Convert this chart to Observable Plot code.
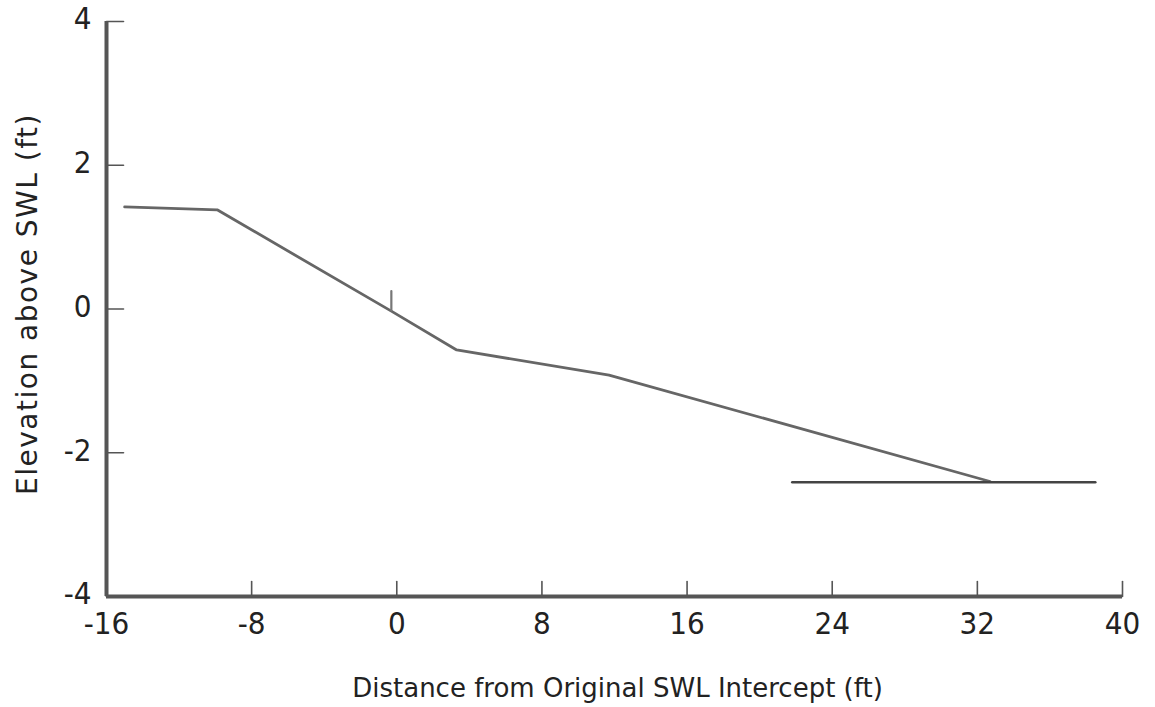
<!DOCTYPE html>
<html>
<head>
<meta charset="utf-8">
<script src="https://cdn.jsdelivr.net/npm/d3@7"></script>
<script src="https://cdn.jsdelivr.net/npm/@observablehq/plot@0.6"></script>
<style>
  html, body { margin: 0; padding: 0; background: #fff; }
  #chart svg { display: block; }
  #chart .ylabel text { letter-spacing: 1.5px; }
</style>
</head>
<body>
<div id="chart"></div>
<script>
// Profile (distance ft, elevation ft)
const profileX = [-15.0, -9.9, -0.3, 3.3, 11.7, 32.7];
const profileY = [1.42, 1.38, -0.03, -0.57, -0.92, -2.40];
// Horizontal line near the toe
const levelX = [21.8, 38.5];
const levelY = [-2.41, -2.41];
// Small vertical marker at the original SWL intercept
const markX = [-0.3, -0.3];
const markY = [-0.02, 0.25];

const xTicks = [-16, -8, 0, 8, 16, 24, 32, 40];
const yTicks = [-4, -2, 0, 2, 4];
const xLabel = "Distance from Original SWL Intercept (ft)";
const yLabel = "Elevation above SWL (ft)";

const profile = profileX.map((x, i) => ({x, y: profileY[i]}));
const level = levelX.map((x, i) => ({x, y: levelY[i]}));
const mark = markX.map((x, i) => ({x, y: markY[i]}));

const axisColor = "#555";
const lineColor = "#666";
const textColor = "#222";
const font = "'DejaVu Sans Condensed', 'DejaVu Sans', sans-serif";
const labelFont = "'DejaVu Sans', sans-serif";
const tickShape = {draw(ctx, l) { ctx.moveTo(0, 0); ctx.lineTo(0, -l); }};

const chart = Plot.plot({
  width: 1155,
  height: 707,
  marginLeft: 106,
  marginRight: 33,
  marginTop: 21,
  marginBottom: 111,
  style: {fontFamily: font, color: textColor, background: "#fff"},
  x: {domain: [-16, 40]},
  y: {domain: [-4, 4]},
  marks: [
    Plot.axisX(xTicks, {tickSize: 0, tickPadding: 15, fontSize: 31, label: null, tickFormat: d => String(d)}),
    Plot.axisY(yTicks, {tickSize: 0, tickPadding: 15, fontSize: 31, dy: -2, label: null, tickFormat: d => String(d)}),
    Plot.text([xLabel], {frameAnchor: "bottom", textAnchor: "middle", lineAnchor: "middle", dy: 92, dx: 3, fontSize: 26, fontFamily: labelFont, fill: textColor, className: "xlabel"}),
    Plot.text([yLabel], {frameAnchor: "left", textAnchor: "middle", lineAnchor: "middle", rotate: -90, dx: -78, dy: -5, fontSize: 28, fontFamily: labelFont, fill: textColor, className: "ylabel"}),
    Plot.vector(xTicks, {x: d => d, y: -4, length: 15, rotate: 0, anchor: "start", stroke: axisColor, strokeWidth: 1.6, shape: tickShape}),
    Plot.vector(yTicks, {x: -16, y: d => d, length: 17, rotate: 90, anchor: "start", stroke: axisColor, strokeWidth: 1.6, shape: tickShape}),
    Plot.ruleX([-16], {stroke: axisColor, strokeWidth: 4}),
    Plot.ruleY([-4], {stroke: axisColor, strokeWidth: 4}),
    Plot.line(profile, {x: "x", y: "y", stroke: lineColor, strokeWidth: 2.8}),
    Plot.line(level, {x: "x", y: "y", stroke: "#444", strokeWidth: 2.6}),
    Plot.line(mark, {x: "x", y: "y", stroke: "#777", strokeWidth: 2.2})
  ]
});
document.getElementById("chart").append(chart);
</script>
</body>
</html>
